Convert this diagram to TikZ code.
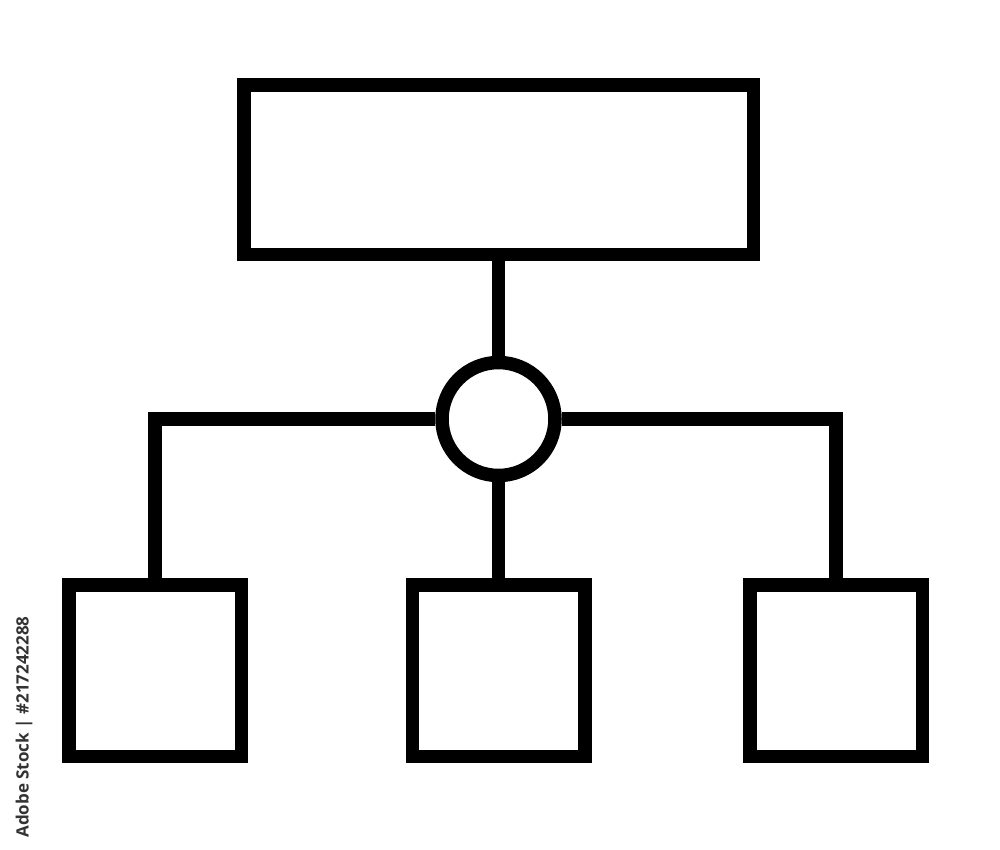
\documentclass[tikz,border=0pt]{standalone}
\usepackage{fontspec}
\setmainfont{Open Sans}
\begin{document}
\begin{tikzpicture}[x=1pt,y=-1pt,
  lw/.style={line width=13.5pt},
  box/.style={draw,lw,rectangle,minimum width=172.5pt,minimum height=171.5pt,inner sep=0pt,fill=white},
  hub/.style={draw,lw,circle,minimum size=113pt,inner sep=0pt,fill=white},
  link/.style={draw,lw,line join=miter,line cap=butt}]
\useasboundingbox[fill=white] (0,0) rectangle (1000,849);
\node[draw,lw,rectangle,minimum width=509.5pt,minimum height=169.5pt,inner sep=0pt] (top) at (498.5,169.5) {};
\node[hub] (hub) at (498.5,419) {};
\node[box] (b1) at (155,670.5) {};
\node[box] (b2) at (498.5,670.5) {};
\node[box] (b3) at (836,670.5) {};
\draw[link] (top.south) -- (hub.north);
\draw[link] (hub.south) -- (b2.north);
\draw[link] (hub.west) -| (b1.north);
\draw[link] (hub.east) -| (b3.north);
\node[rotate=90,text=black!80,font=\fontsize{17}{18}\selectfont\bfseries,inner sep=0pt] (credit) at (24,727) {Adobe Stock | \#217242288};
\end{tikzpicture}
\end{document}
